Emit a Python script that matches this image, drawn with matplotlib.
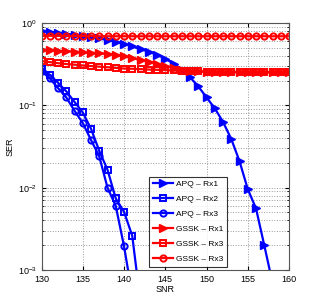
import matplotlib
matplotlib.use("Agg")
import matplotlib.pyplot as plt
import numpy as np

plt.rcParams['font.family'] = ['Liberation Sans', 'DejaVu Sans']

snr_full = list(range(130, 161))
snr_apq1 = list(range(130, 159))
snr_apq2 = list(range(130, 143))
snr_apq3 = list(range(130, 142))

apq_rx1 = [0.80, 0.78, 0.76, 0.74, 0.72, 0.70, 0.68, 0.65, 0.62, 0.59,
           0.56, 0.52, 0.48, 0.45, 0.41, 0.37, 0.32, 0.27, 0.22, 0.17,
           0.125, 0.092, 0.063, 0.039, 0.021, 0.0096, 0.0056, 0.002, 0.0007]
apq_rx2 = [0.28, 0.235, 0.188, 0.148, 0.11, 0.082, 0.052, 0.028, 0.0165,
           0.0074, 0.0051, 0.0026, 0.0004]
apq_rx3 = [0.26, 0.213, 0.162, 0.125, 0.086, 0.061, 0.038, 0.024, 0.010,
           0.006, 0.00195, 0.0005]
gssk_rx1 = [0.47, 0.465, 0.46, 0.455, 0.45, 0.44, 0.435, 0.43, 0.42, 0.41,
            0.395, 0.375, 0.355, 0.34, 0.32, 0.30, 0.285, 0.27, 0.262, 0.258,
            0.255, 0.255, 0.254, 0.254, 0.253, 0.253, 0.253, 0.252, 0.252, 0.252, 0.252]
gssk_rx3 = [0.345, 0.335, 0.325, 0.318, 0.312, 0.305, 0.30, 0.295, 0.29, 0.285,
            0.28, 0.278, 0.275, 0.272, 0.27, 0.268, 0.265, 0.263, 0.26, 0.258,
            0.256, 0.255, 0.255, 0.254, 0.254, 0.253, 0.253, 0.253, 0.252, 0.252, 0.252]
gssk_rx3b = [0.70, 0.70, 0.70, 0.695, 0.695, 0.695, 0.695, 0.69, 0.69, 0.69,
             0.69, 0.69, 0.69, 0.69, 0.69, 0.69, 0.69, 0.69, 0.69, 0.69,
             0.69, 0.69, 0.69, 0.69, 0.69, 0.69, 0.69, 0.69, 0.69, 0.69, 0.69]

labels = ["APQ – Rx1", "APQ – Rx2", "APQ – Rx3", "GSSK – Rx1", "GSSK – Rx3", "GSSK – Rx3"]
xticks = [130, 135, 140, 145, 150, 155, 160]

fig = plt.figure(figsize=(3.19, 3.05), dpi=100)
ax = fig.add_axes([41.5/319, 1 - 270/305, (289 - 41.5)/319, (270 - 23)/305])

blue = "#0000ff"
red = "#ff0000"
lw = 1.6
ax.plot(snr_apq1, apq_rx1, color=blue, lw=lw, marker=">", ms=6, mfc=blue, mec=blue, label=labels[0])
ax.plot(snr_apq2, apq_rx2, color=blue, lw=lw, marker="s", ms=4, mfc="none", mec=blue, mew=1.4, label=labels[1])
ax.plot(snr_apq3, apq_rx3, color=blue, lw=lw, marker="o", ms=4.5, mfc="none", mec=blue, mew=1.4, label=labels[2])
ax.plot(snr_full, gssk_rx1, color=red, lw=lw, marker=">", ms=6, mfc=red, mec=red, label=labels[3])
ax.plot(snr_full, gssk_rx3, color=red, lw=lw, marker="s", ms=4, mfc="none", mec=red, mew=1.4, label=labels[4])
ax.plot(snr_full, gssk_rx3b, color=red, lw=lw, marker="o", ms=4.5, mfc="none", mec=red, mew=1.4, label=labels[5])

ax.set_yscale("log")
ax.set_xlim(130, 160)
ax.set_ylim(1e-3, 1)
ax.set_xticks(xticks)
ax.tick_params(axis="both", which="both", direction="in", top=True, right=True, labelsize=6.5)
ax.tick_params(which="major", length=3)
ax.tick_params(which="minor", length=1.5)
ax.grid(True, which="major", linestyle=":", color="#999999", lw=0.7)
ax.grid(True, which="minor", axis="y", linestyle=":", color="#999999", lw=0.7)
for s in ax.spines.values():
    s.set_color("#555555")
    s.set_linewidth(0.8)

ax.set_xlabel("SNR", fontsize=6.5, labelpad=1)
ax.set_ylabel("SER", fontsize=6.5, labelpad=2)

leg = ax.legend(loc="lower right", bbox_to_anchor=(226.7/319, 1 - 266.7/305), bbox_transform=fig.transFigure,
                fontsize=6, frameon=True, fancybox=False, edgecolor="black",
                handlelength=2.4, labelspacing=0.85, borderpad=0.45, handletextpad=0.3, borderaxespad=0)
leg.get_frame().set_linewidth(0.8)

fig.savefig("out.png", dpi=100)
